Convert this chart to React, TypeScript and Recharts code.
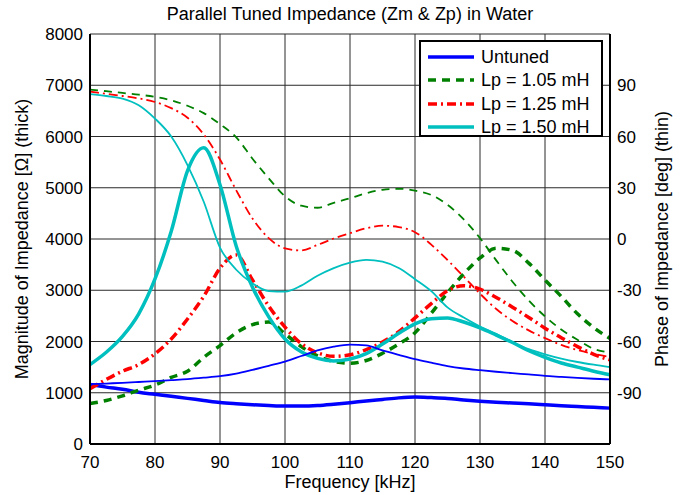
import React from "react";
import { LineChart, Line, XAxis, YAxis, CartesianGrid } from "recharts";

const FONT = '"Liberation Sans", Arial, Helvetica, sans-serif';

// frequency in kHz
const freq = [70, 72.5, 75, 77.5, 80, 82.5, 85, 87.5, 90, 92.5, 95, 97.5, 100, 102.5, 105, 107.5, 110,
  112.5, 115, 117.5, 120, 122.5, 125, 127.5, 130, 132.5, 135, 137.5, 140, 142.5, 145, 147.5, 150];

// magnitude [ohm] (thick lines)
const magUntuned = [1160, 1110, 1070, 1010, 970, 930, 890, 850, 810, 785, 765, 750, 740, 740, 750, 775, 805,
  840, 870, 900, 915, 905, 890, 860, 835, 815, 800, 785, 765, 745, 730, 715, 700];
const magLp105 = [790, 850, 940, 1050, 1150, 1300, 1420, 1690, 1920, 2170, 2330, 2380, 2150, 1900, 1720, 1610, 1575,
  1630, 1770, 1950, 2170, 2550, 2950, 3320, 3630, 3820, 3780, 3530, 3200, 2880, 2540, 2270, 2060];
const magLp125 = [1080, 1260, 1420, 1550, 1760, 2050, 2440, 2880, 3430, 3690, 3200, 2690, 2280, 1960, 1780, 1710, 1740,
  1840, 1990, 2190, 2460, 2740, 2990, 3090, 3020, 2860, 2670, 2470, 2260, 2075, 1900, 1750, 1640];
const magLp150 = [1550, 1790, 2100, 2540, 3220, 4150, 5330, 5780, 5060, 3860, 3060, 2480, 2050, 1800, 1670, 1620, 1660,
  1765, 1950, 2160, 2345, 2445, 2460, 2380, 2265, 2125, 1980, 1820, 1690, 1580, 1500, 1420, 1350];

// phase [deg] (thin lines)
const phUntuned = [-85, -84.6, -84.2, -83.7, -83.2, -82.6, -82, -81.2, -80.3, -78.8, -76.6, -74.2, -71.8, -68.5, -65.2, -63, -61.8,
  -62.3, -65.2, -67.8, -70.3, -72.4, -74.4, -75.8, -76.8, -77.7, -78.5, -79.3, -80.1, -80.7, -81.3, -81.8, -82.2];
const phLp105 = [87.5, 86.5, 85.5, 84.5, 83.2, 81.2, 78, 73.7, 67.2, 59.5, 47, 35.5, 25, 19.5, 18.3, 21.2, 23.8,
  26.8, 28.8, 29.4, 28.3, 25.8, 20, 11.5, 0.5, -12.5, -25, -36, -45.3, -53, -59, -64.3, -66.5];
const phLp125 = [86.3, 85, 83.7, 82.3, 80.2, 76.6, 71, 61.2, 46.5, 28.5, 12, 0.5, -5.5, -6.7, -3.5, 0.3, 3.4,
  6.3, 7.8, 7, 4, -3.3, -12.3, -22, -32, -41, -48, -53.5, -58, -62, -65, -67.3, -69];
const phLp150 = [84.8, 83.7, 82.2, 78.3, 70.5, 60, 43.3, 21.8, -5, -18, -26, -30.5, -30.8, -27.3, -21.5, -17, -13.8,
  -12.2, -13.3, -17, -23.5, -30.5, -40, -46, -51.2, -55.5, -60.3, -64.5, -67.5, -70, -72, -73.6, -75];

const xTicks = [70, 80, 90, 100, 110, 120, 130, 140, 150];
const magTicks = [0, 1000, 2000, 3000, 4000, 5000, 6000, 7000, 8000];
const phaseTicks = [-90, -60, -30, 0, 30, 60, 90];

const data = freq.map((f, i) => ({
  f,
  m0: magUntuned[i], m1: magLp105[i], m2: magLp125[i], m3: magLp150[i],
  p0: phUntuned[i], p1: phLp105[i], p2: phLp125[i], p3: phLp150[i],
}));

const BLUE = "#0000ff";
const GREEN = "#008000";
const RED = "#ff0000";
const CYAN = "#00bfbf";
const DASH = "8 6";
const DASHDOT = "9 4 2 4";

const legendItems = [
  { name: "Untuned", color: BLUE, dash: undefined },
  { name: "Lp = 1.05 mH", color: GREEN, dash: DASH },
  { name: "Lp = 1.25 mH", color: RED, dash: DASHDOT },
  { name: "Lp = 1.50 mH", color: CYAN, dash: undefined },
];

const tickStyle = { fill: "#000", fontSize: 17, fontFamily: FONT };

const xLabel = (props: any) => {
  const vb = props.viewBox;
  return (
    <text x={vb.x + vb.width / 2} y={vb.y + 38} textAnchor="middle" dominantBaseline="central"
      fontSize={18} fontFamily={FONT} fill="#000">
      Frequency [kHz]
    </text>
  );
};

const leftLabel = (props: any) => {
  const vb = props.viewBox;
  const cx = vb.x + 12;
  const cy = vb.y + vb.height / 2;
  return (
    <text x={cx} y={cy} transform={`rotate(-90 ${cx} ${cy})`} textAnchor="middle" dominantBaseline="central"
      fontSize={18} fontFamily={FONT} fill="#000">
      Magnitude of Impedance [Ω] (thick)
    </text>
  );
};

const rightLabel = (props: any) => {
  const vb = props.viewBox;
  const cx = vb.x + 52;
  const cy = vb.y + vb.height / 2;
  return (
    <text x={cx} y={cy} transform={`rotate(-90 ${cx} ${cy})`} textAnchor="middle" dominantBaseline="central"
      fontSize={18} fontFamily={FONT} fill="#000">
      Phase of Impedance [deg] (thin)
    </text>
  );
};

const LegendBox = () => (
  <div style={{
    position: "absolute", left: 419, top: 40, width: 184, height: 97, boxSizing: "border-box",
    border: "2px solid #000", background: "#fff",
  }}>
    {legendItems.map((it, i) => (
      <div key={it.name} style={{
        position: "absolute", left: 0, top: 3.5 + i * 23.3, height: 23.3, display: "flex", alignItems: "center",
      }}>
        <svg width={46} height={10} style={{ marginLeft: 7 }}>
          <line x1={0} y1={5} x2={46} y2={5} stroke={it.color} strokeWidth={3.5} strokeDasharray={it.dash} />
        </svg>
        <span style={{ marginLeft: 7, fontSize: 18, lineHeight: "20px" }}>{it.name}</span>
      </div>
    ))}
  </div>
);

const App: React.FC = () => {
  return (
    <div style={{ position: "absolute", left: 0, top: 0, width: 683, height: 495, background: "#fff", fontFamily: FONT, color: "#000" }}>
      <div style={{ position: "absolute", left: 90, top: 4, width: 520, textAlign: "center", fontSize: 18 }}>
        Parallel Tuned Impedance (Zm &amp; Zp) in Water
      </div>
      <LineChart width={683} height={495} data={data} margin={{ top: 34, right: 13, bottom: 20, left: 10 }}>
        <CartesianGrid xAxisId="bottom" yAxisId="left" stroke="#2a2a2a" strokeWidth={1} />
        <XAxis xAxisId="bottom" dataKey="f" type="number" domain={[70, 150]} ticks={xTicks} height={31}
          tick={tickStyle} tickLine={false} tickSize={0} tickMargin={12}
          axisLine={{ stroke: "#000", strokeWidth: 2 }} label={xLabel} />
        <XAxis xAxisId="top" orientation="top" type="number" domain={[70, 150]} height={0}
          tick={false} tickLine={false} axisLine={{ stroke: "#000", strokeWidth: 2 }} />
        <YAxis yAxisId="left" type="number" domain={[0, 8000]} ticks={magTicks} width={80}
          tick={tickStyle} tickLine={false} tickSize={0} tickMargin={7}
          axisLine={{ stroke: "#000", strokeWidth: 2 }} label={leftLabel} />
        <YAxis yAxisId="right" orientation="right" type="number" domain={[-120, 120]} ticks={phaseTicks} width={60}
          tick={tickStyle} tickLine={false} tickSize={0} tickMargin={7}
          axisLine={{ stroke: "#000", strokeWidth: 2 }} label={rightLabel} />

        <Line xAxisId="bottom" yAxisId="left" type="monotone" dataKey="m0" stroke={BLUE} strokeWidth={3.5} dot={false} isAnimationActive={false} />
        <Line xAxisId="bottom" yAxisId="left" type="monotone" dataKey="m1" stroke={GREEN} strokeWidth={3.5} strokeDasharray={DASH} dot={false} isAnimationActive={false} />
        <Line xAxisId="bottom" yAxisId="left" type="monotone" dataKey="m2" stroke={RED} strokeWidth={3.5} strokeDasharray={DASHDOT} dot={false} isAnimationActive={false} />
        <Line xAxisId="bottom" yAxisId="left" type="monotone" dataKey="m3" stroke={CYAN} strokeWidth={3.5} dot={false} isAnimationActive={false} />

        <Line xAxisId="bottom" yAxisId="right" type="monotone" dataKey="p0" stroke={BLUE} strokeWidth={1.8} dot={false} isAnimationActive={false} />
        <Line xAxisId="bottom" yAxisId="right" type="monotone" dataKey="p1" stroke={GREEN} strokeWidth={1.8} strokeDasharray={DASH} dot={false} isAnimationActive={false} />
        <Line xAxisId="bottom" yAxisId="right" type="monotone" dataKey="p2" stroke={RED} strokeWidth={1.8} strokeDasharray={DASHDOT} dot={false} isAnimationActive={false} />
        <Line xAxisId="bottom" yAxisId="right" type="monotone" dataKey="p3" stroke={CYAN} strokeWidth={1.8} dot={false} isAnimationActive={false} />
      </LineChart>
      <LegendBox />
    </div>
  );
};

export default App;
